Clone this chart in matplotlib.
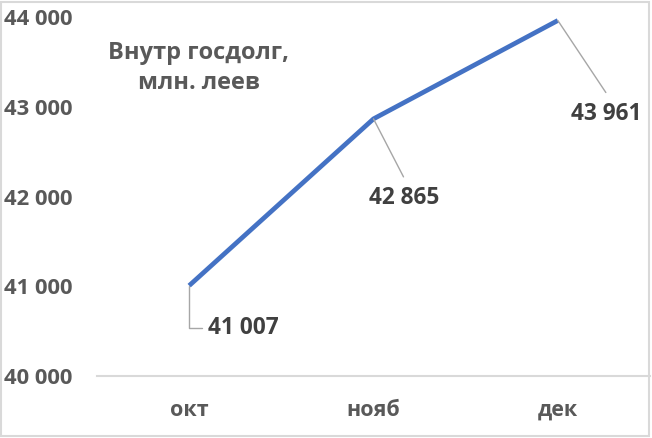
import matplotlib.pyplot as plt
import matplotlib
from matplotlib.patches import Rectangle
from matplotlib.ticker import FuncFormatter

matplotlib.rcParams["font.family"] = ["Open Sans", "DejaVu Sans"]

MONTHS = ["окт", "нояб", "дек"]
DEBT = [41007, 42865, 43961]
TITLE = "Внутр госдолг,\nмлн. леев"

BLUE = "#4472C4"
GRAY = "#595959"
DARK = "#404040"
LIGHT = "#D9D9D9"
LEADER = "#A6A6A6"
PX = 72 / 100  # pixels -> points

# leader end offsets and label offsets, in pixels (right, down)
LEADER_END = [(13, 42), (30, 58), (48, 72)]
LABEL_POS = [(19, 42), (31, 79), (48, 93)]

fig = plt.figure(figsize=(6.52, 4.38), dpi=100)
ax = fig.add_axes([97 / 652, 62 / 438, 553 / 652, 359 / 438])

x = list(range(len(MONTHS)))
ax.plot(x, DEBT, color=BLUE, linewidth=3.4, solid_capstyle="butt", zorder=3)

ax.set_xlim(-0.5, len(MONTHS) - 0.5)
ax.set_ylim(40000, 44000)
ax.set_yticks([40000, 41000, 42000, 43000, 44000])
ax.yaxis.set_major_formatter(FuncFormatter(lambda v, p: f"{v:,.0f}".replace(",", " ")))
ax.set_xticks(x)
ax.set_xticklabels(MONTHS)

for s in ["top", "right", "left"]:
    ax.spines[s].set_visible(False)
ax.spines["bottom"].set_color(LIGHT)
ax.spines["bottom"].set_linewidth(1.5)
ax.tick_params(axis="y", length=0, pad=18, labelsize=15.8, labelcolor=GRAY)
ax.tick_params(axis="x", length=0, pad=17, labelsize=15.5, labelcolor=GRAY)
for lab in ax.get_yticklabels() + ax.get_xticklabels():
    lab.set_fontweight("bold")

for i, v in enumerate(DEBT):
    lx, ly = LEADER_END[i]
    tx, ty = LABEL_POS[i]
    conn = "angle,angleA=0,angleB=90,rad=0" if i == 0 else "arc3"
    ax.annotate("", xy=(i, v), xytext=(lx * PX, -ly * PX), textcoords="offset points",
                arrowprops=dict(arrowstyle="-", color=LEADER, lw=1, shrinkA=0, shrinkB=0,
                                connectionstyle=conn))
    ax.annotate(f"{v:,}".replace(",", " "), xy=(i, v), xytext=(tx * PX, -ty * PX),
                textcoords="offset points", ha="left" if i == 0 else "center", va="center",
                fontsize=16.3, fontweight="bold", color=DARK)

fig.text(199 / 652, 1 - 68 / 438, TITLE, ha="center", va="center", fontsize=17,
         fontweight="bold", color=GRAY, linespacing=1.3)

fig.add_artist(Rectangle((0.002, 0.004), 0.994, 0.992, transform=fig.transFigure,
                         fill=False, edgecolor=LIGHT, linewidth=1.5))

fig.savefig("out.png", dpi=100)
